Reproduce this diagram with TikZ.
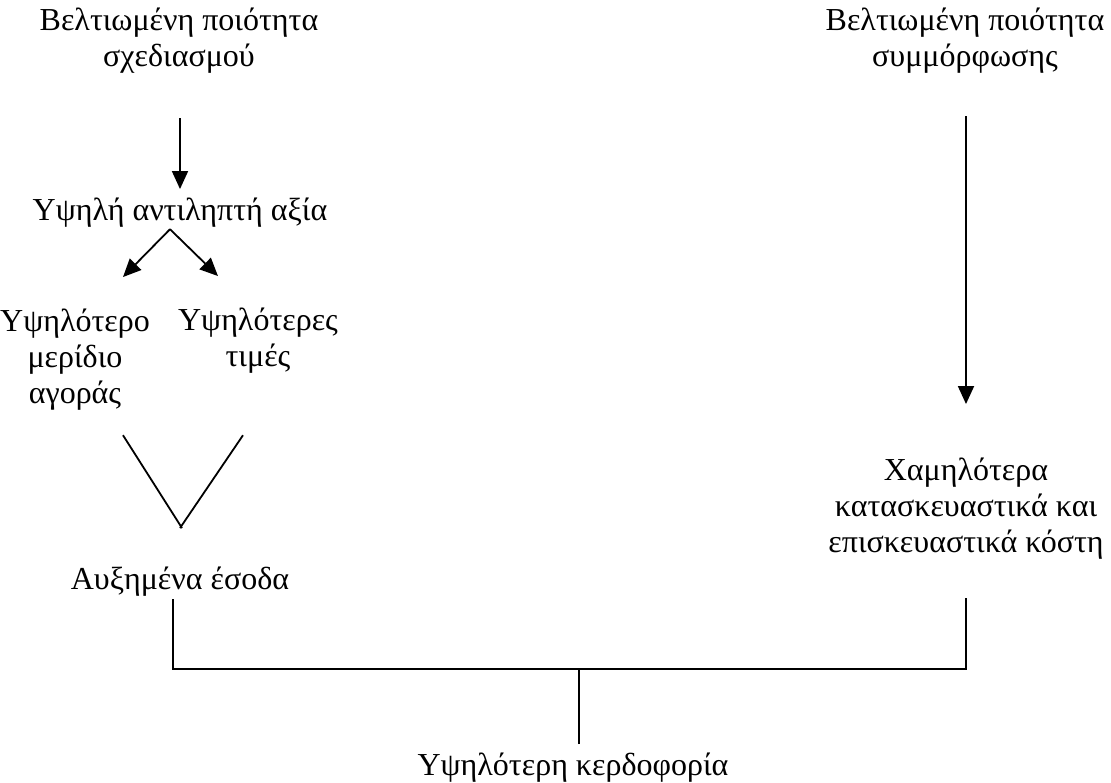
\documentclass[tikz,border=0pt]{standalone}
\usepackage{fontspec}
\setmainfont{Liberation Serif}
\usetikzlibrary{arrows.meta}
\begin{document}
\begin{tikzpicture}[x=1pt,y=-1pt,line width=1.8pt,
  lbl/.style={font=\fontsize{32}{36}\selectfont,align=center,inner sep=0pt,anchor=base},
  arr/.style={-{Triangle[length=18pt,width=16pt]}}]
\useasboundingbox (0,0) rectangle (1111,782);

% text blocks (anchored at the baseline of their last line)
\node[lbl] (design)  at (179,66)  {Βελτιωμένη ποιότητα\\σχεδιασμού};
\node[lbl] (conform) at (965,66)  {Βελτιωμένη ποιότητα\\συμμόρφωσης};
\node[lbl] (value)   at (180,220) {Υψηλή αντιληπτή αξία};
\node[lbl] (share)   at (75,403)  {Υψηλότερο\\μερίδιο\\αγοράς};
\node[lbl] (prices)  at (258,366) {Υψηλότερες\\τιμές};
\node[lbl] (revenue) at (180,589) {Αυξημένα έσοδα};
\node[lbl] (costs)   at (966,552) {Χαμηλότερα\\κατασκευαστικά και\\επισκευαστικά κόστη};
\node[lbl] (profit)  at (573,775) {Υψηλότερη κερδοφορία};

% arrows
\draw[arr,shorten <=44.5pt,shorten >=7.5pt] ([xshift=1pt]design.south) -- (value.north);
\draw[arr,shorten <=42.5pt,shorten >=52.5pt] ([xshift=1pt]conform.south) -- (costs.north);
\coordinate (fork) at ([xshift=-10pt,yshift=-1.5pt]value.south);
\draw[arr] (fork) -- ([xshift=48pt,yshift=30.5pt]share.north);
\draw[arr] (fork) -- ([xshift=-40pt,yshift=30.5pt]prices.north);

% converging lines
\draw ([xshift=48pt,yshift=-24.5pt]share.south) -- ([xshift=2pt,yshift=37.5pt]revenue.north);
\draw ([xshift=-15pt,yshift=-61.5pt]prices.south) -- ([yshift=37.5pt]revenue.north);

% bracket to profitability
\draw ([xshift=-7pt,yshift=-2.5pt]revenue.south) -- ++(0,70) coordinate (barL)
      -| ([yshift=-38.5pt]costs.south);
\draw ([xshift=6pt,yshift=7.5pt]profit.north) -- ++(0,-75);
\end{tikzpicture}
\end{document}
